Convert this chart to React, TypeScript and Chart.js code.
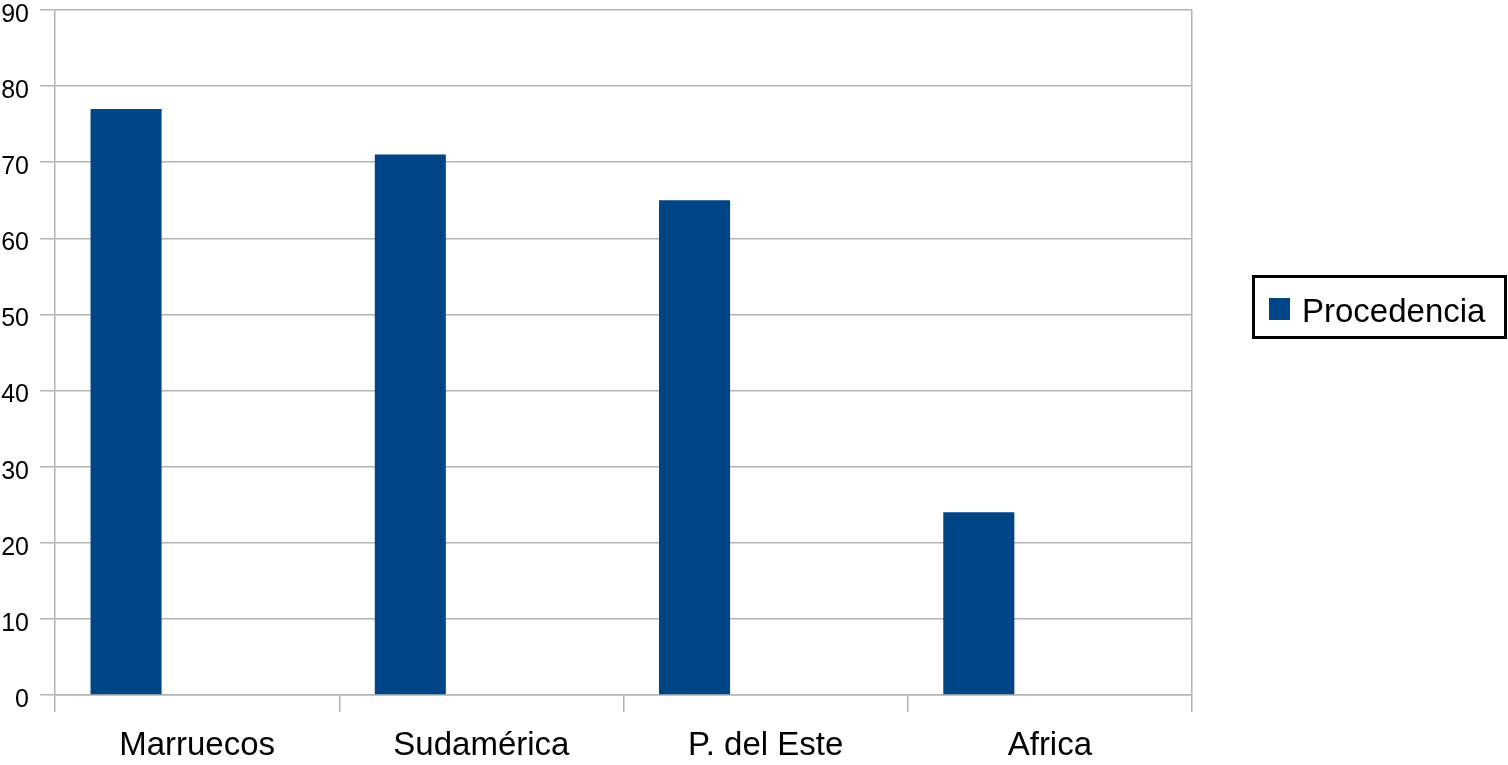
import React, { useEffect, useRef } from "react";
import { Chart, registerables } from "chart.js";

Chart.register(...registerables);

const categories = ["Marruecos", "Sudamérica", "P. del Este", "Africa"];
const seriesLabel = "Procedencia";
const seriesValues = [77, 71, 65, 24];
const emptySeries: (number | null)[] = [null, null, null, null];
const yMin = 0;
const yMax = 90;
const yStep = 10;

const BAR_COLOR = "#004586";
const GRID_COLOR = "#b3b3b3";
const FONT = "'Liberation Sans', Arial, sans-serif";

const legendBoxPlugin = {
  id: "legendBox",
  afterDraw(chart: any) {
    const ctx = chart.ctx;
    const ds = chart.data.datasets[0];
    ctx.save();
    ctx.strokeStyle = "#000";
    ctx.lineWidth = 3;
    ctx.strokeRect(1253.5, 276.5, 252, 61);
    ctx.fillStyle = ds.backgroundColor;
    ctx.fillRect(1269, 298, 21, 22);
    ctx.fillStyle = "#000";
    ctx.font = `33px ${FONT}`;
    ctx.textBaseline = "alphabetic";
    ctx.textAlign = "left";
    ctx.fillText(ds.label, 1302, 322);
    ctx.restore();
  },
};

export default function App() {
  const ref = useRef<HTMLCanvasElement>(null);
  useEffect(() => {
    document.body.style.margin = "0";
    const canvas = ref.current!;
    const chart = new Chart(canvas, {
      type: "bar",
      data: {
        labels: categories,
        datasets: [
          { label: seriesLabel, data: seriesValues, backgroundColor: BAR_COLOR },
          { label: "", data: emptySeries, backgroundColor: "transparent" },
          { label: "", data: emptySeries, backgroundColor: "transparent" },
        ],
      },
      options: {
        animation: false,
        responsive: false,
        maintainAspectRatio: false,
        layout: { padding: { top: 10, right: 316, left: 0, bottom: 0 } },
        datasets: { bar: { categoryPercentage: 0.75, barPercentage: 1 } } as any,
        plugins: { legend: { display: false }, tooltip: { enabled: false } },
        scales: {
          x: {
            offset: true,
            grid: {
              offset: true,
              drawOnChartArea: true,
              color: (c: any) => (c.type === "scale" ? GRID_COLOR : "transparent"),
              tickColor: GRID_COLOR,
              tickLength: 17,
              lineWidth: 1.5,
            },
            border: { color: GRID_COLOR, width: 1.5 },
            ticks: { color: "#000", font: { family: FONT, size: 33 }, padding: 14, maxRotation: 0 },
            afterFit: (s: any) => { s.height = 70; s.paddingLeft = 0; s.paddingRight = 0; },
          },
          y: {
            min: yMin,
            max: yMax,
            ticks: { stepSize: yStep, color: "#000", font: { family: FONT, size: 25 }, padding: 11, labelOffset: 5 },
            grid: { color: GRID_COLOR, tickLength: 15, lineWidth: 1.5 },
            border: { color: GRID_COLOR, width: 1.5 },
            afterFit: (s: any) => { s.width = 55; s.paddingTop = 0; s.paddingBottom = 0; },
          },
        },
      },
      plugins: [legendBoxPlugin],
    });
    return () => chart.destroy();
  }, []);
  return <canvas ref={ref} width={1508} height={765} style={{ display: "block" }} />;
}
